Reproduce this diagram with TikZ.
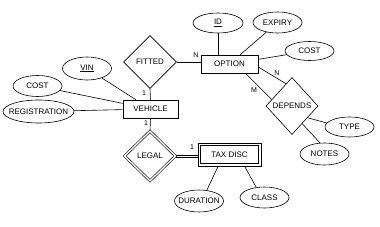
\documentclass[tikz,border=0pt]{standalone}
\usepackage{fontspec}
\setmainfont{Liberation Sans}
\usetikzlibrary{shapes.geometric}
\newcommand\zw[1]{\makebox[0pt]{#1}}
\begin{document}
\begin{tikzpicture}[x=1pt,y=-1pt,line width=0.6pt,
  lbl/.style={font=\fontsize{8}{9}\selectfont},
  attr/.style={lbl,draw,ellipse,inner sep=0pt,minimum width=49pt,minimum height=21pt},
  ent/.style={lbl,draw,rectangle,inner sep=0pt,minimum height=18pt},
  rel/.style={lbl,draw,diamond,inner sep=0pt},
  dbl/.style={double,double distance=1.4pt},
  card/.style={inner sep=0pt,font=\fontsize{7}{8}\selectfont}]
\useasboundingbox (0,0) rectangle (380,227);
% entities
\node[ent,minimum width=55pt] (vehicle) at (150.5,109) {\zw{VEHICLE}};
\node[ent,minimum width=57pt] (option) at (229.5,64) {\zw{OPTION}};
\node[ent,minimum width=63pt,minimum height=23pt] (taxdisc) at (229.5,154.5) {};
\node[ent,minimum width=58.5pt,minimum height=18.5pt] (taxin) at (229.5,154.5) {\zw{TAX DISC}};
% relationships
\node[rel,minimum width=53pt,minimum height=53pt] (fitted) at (150,62) {\zw{FITTED}};
\node[rel,dbl,minimum width=51pt,minimum height=50pt] (legal) at (150,156) {\zw{LEGAL}};
\node[rel,minimum width=52pt,minimum height=57pt] (depends) at (292,106) {\zw{DEPENDS}};
% attributes
\node[attr,minimum height=23pt] (vin) at (87,68.5) {\zw{\underline{VIN}}};
\node[attr] (cost1) at (37.5,86) {\zw{COST}};
\node[attr,minimum width=71pt,minimum height=23pt] (reg) at (38.5,111.5) {\zw{REGISTRATION}};
\node[attr,minimum width=50pt,minimum height=20pt] (id) at (218,23) {\zw{\underline{ID}}};
\node[attr] (expiry) at (277.5,22.5) {\zw{EXPIRY}};
\node[attr,minimum height=19pt] (cost2) at (309.5,51) {\zw{COST}};
\node[attr,minimum height=20pt] (type) at (349.5,127) {\zw{TYPE}};
\node[attr,minimum height=22pt] (notes) at (324.5,154) {\zw{NOTES}};
\node[attr,minimum height=22pt] (duration) at (199,201) {\zw{DURATION}};
\node[attr] (class) at (264.5,197.5) {\zw{CLASS}};
% connectors
\draw (vin) -- (vehicle);
\draw (cost1) -- (vehicle);
\draw (reg) -- (vehicle);
\draw (fitted.south) -- (vehicle.north);
\draw (fitted.east) -- (fitted.east -| option.west);
\draw (id.south) -- (id.south |- option.north);
\draw (expiry) -- (option);
\draw (cost2) -- (option);
\draw (option.-6) -- (depends.105);
\draw (option.-30) -- (depends.162);
\draw (depends.-37) -- (type.170);
\draw (depends.-60) -- (notes.112);
\draw (vehicle.south) -- (legal.north);
\draw ([yshift=1.2pt]legal.east) -- ([yshift=1.2pt]legal.east -| taxdisc.west);
\draw ([yshift=-1.2pt]legal.east) -- ([yshift=-1.2pt]legal.east -| taxdisc.west);
\draw (taxdisc.-134) -- (duration.54);
\draw (taxdisc.-38) -- (class.129);
% cardinalities
\node[card] (c1) at (144,93) {1};
\node[card] (c2) at (196,55) {N};
\node[card] (c3) at (277,73) {N};
\node[card] (c4) at (254,90) {M};
\node[card] (c5) at (146,123.5) {1};
\node[card] (c6) at (192,147) {1};
\end{tikzpicture}
\end{document}
